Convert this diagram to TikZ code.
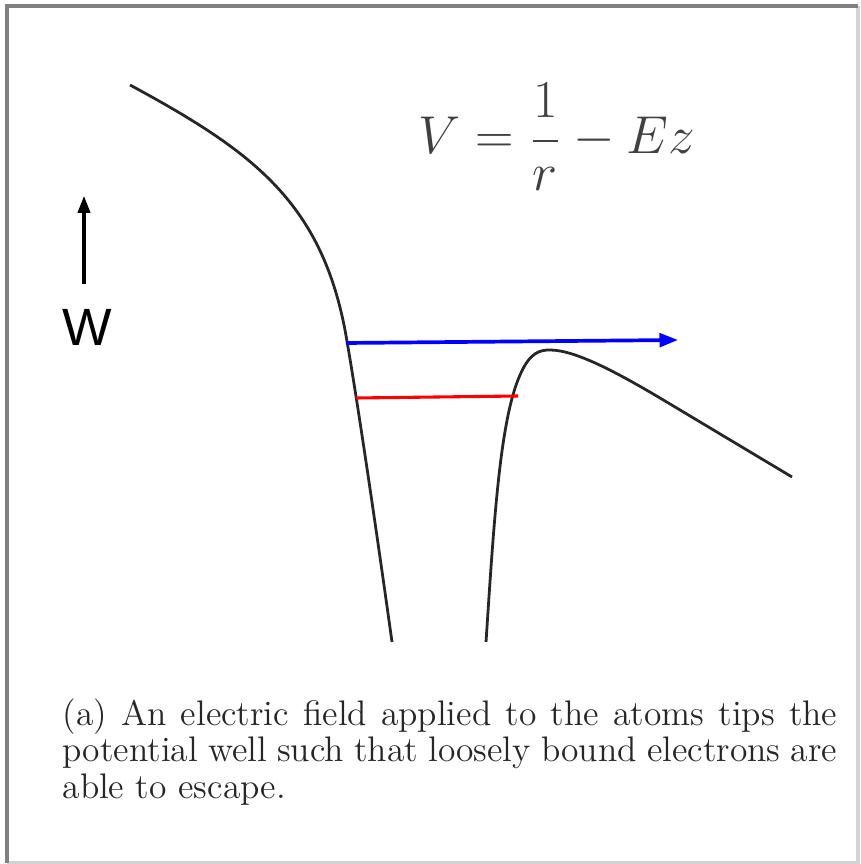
\documentclass[tikz,border=0pt]{standalone}
\usepackage{amsmath}
\usepackage{fontspec}
\usepackage{tikz}
\usepackage{xcolor}
\usetikzlibrary{arrows.meta}
\newfontfamily\wfont{Liberation Sans}

\begin{document}
\begin{tikzpicture}[x=0.324pt,y=-0.324pt,>=Stealth]
  \useasboundingbox (0,0) rectangle (860,864);
  % frame
  \draw[gray!35, line width=1pt] (858,6) -- (858,863) -- (7,863);
  \draw[gray, line width=1.4pt] (7,863) -- (7,6) -- (858,6);
  % potential
  \draw[line width=0.9pt, black!85] (130,85) .. controls (250,150) and (320,200) .. (345,330)
    .. controls (355,385) and (375,520) .. (392,642);
  \draw[line width=0.9pt, black!85] (486,642) .. controls (494,520) and (500,420) .. (520,375)
    .. controls (530,352) and (540,350) .. (550,350)
    .. controls (575,350) and (616,372) .. (660,398) -- (792,477);
  \coordinate (free0) at (346,343);
  \coordinate (free1) at (678,340);
  \coordinate (bound0) at (356,398);
  \coordinate (bound1) at (518,396);
  \draw[-{Triangle[length=6pt,width=4.4pt]}, line width=1.2pt, blue] (free0) -- (free1);
  \draw[line width=1pt, red] (bound0) -- (bound1);
  % energy axis
  \node[font=\wfont\fontsize{17}{19}\selectfont] (w) at (87,327) {W};
  \coordinate (wtip) at (84,196);
  \draw[-{Triangle[length=5.5pt,width=4pt]}, line width=1pt] (84,284) -- (wtip);
  \node[black!75, font=\fontsize{16.5}{20}\selectfont] (eq) at (557,137) {$V=\dfrac{1}{r}-Ez$};
  \node[anchor=north west, inner sep=0pt, text width=251pt, align=justify, black!85,
        font=\fontsize{11.5}{11.8}\selectfont] (cap) at (62,698)
    {(a) An electric field applied to the atoms tips the\linebreak potential well such that loosely bound electrons are\linebreak able to escape.};
\end{tikzpicture}
\end{document}
